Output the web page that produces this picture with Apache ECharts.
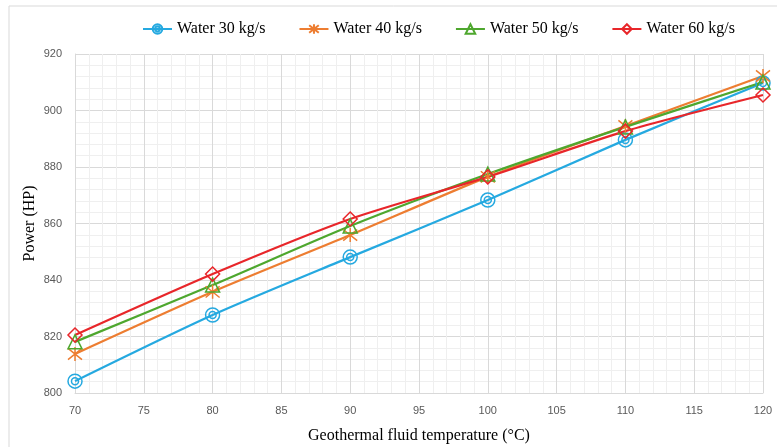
<!DOCTYPE html>
<html>
<head>
<meta charset="utf-8">
<script src="https://cdn.jsdelivr.net/npm/echarts@6/dist/echarts.min.js"></script>
<style>
  html, body { margin: 0; padding: 0; background: #fff; }
  #main { width: 777px; height: 447px; }
</style>
</head>
<body>
<div id="main"></div>
<script>
// temperatures on x axis (°C)
var temps = [70, 80, 90, 100, 110, 120];
var names = ['Water 30 kg/s', 'Water 40 kg/s', 'Water 50 kg/s', 'Water 60 kg/s'];
// power (HP)
var water30 = [804.2, 827.6, 848.1, 868.3, 889.6, 909.7];
var water40 = [813.8, 835.8, 855.9, 876.5, 894.5, 912.2];
var water50 = [818.1, 838.2, 859.1, 877.5, 894.2, 910.1];
var water60 = [820.5, 842.1, 861.6, 876.5, 892.7, 905.5];

var colors = ['#25a9e0', '#ed7d31', '#4ea72e', '#e8262a'];
var symbols = [
  'path://M0,-10A10,10 0 1,1 0,10A10,10 0 1,1 0,-10ZM0,-5A5,5 0 1,1 0,5A5,5 0 1,1 0,-5Z',
  'path://M-8,-8L8,8M8,-8L-8,8M0,-10L0,10',
  'path://M0,-9L9,7L-9,7Z',
  'path://M0,-10L10,0L0,10L-10,0Z'
];
var dataSets = [water30, water40, water50, water60];

function mkSeries(i) {
  return {
    name: names[i],
    type: 'line',
    smooth: 0.25,
    data: temps.map(function (t, k) { return [t, dataSets[i][k]]; }),
    symbol: symbols[i],
    symbolSize: 14,
    lineStyle: { color: colors[i], width: 2.2 },
    itemStyle: { color: 'rgba(255,255,255,0)', borderColor: colors[i], borderWidth: 1.5 }
  };
}

var chart = echarts.init(document.getElementById('main'));
chart.setOption({
  animation: false,
  backgroundColor: '#fff',
  graphic: [{
    type: 'rect',
    shape: { x: 9, y: 6, width: 800, height: 480 },
    style: { fill: 'none', stroke: '#d9d9d9', lineWidth: 1 },
    silent: true
  }],
  legend: {
    top: 16,
    left: 137,
    itemGap: 33,
    itemWidth: 29,
    itemHeight: 12,
    textStyle: { fontFamily: 'Liberation Serif', fontSize: 16, color: '#000' },
    data: names
  },
  grid: { left: 75, right: 14, top: 54, bottom: 54, outerBoundsMode: 'none' },
  xAxis: {
    type: 'value',
    min: 70, max: 120, interval: 5,
    name: 'Geothermal fluid temperature (°C)',
    nameLocation: 'middle',
    nameGap: 35,
    nameTextStyle: { fontFamily: 'Liberation Serif', fontSize: 16, color: '#000' },
    axisLine: { show: true, lineStyle: { color: '#d9d9d9' } },
    axisTick: { show: false },
    axisLabel: { color: '#595959', fontFamily: 'Liberation Sans', fontSize: 11, margin: 12 },
    splitLine: { show: true, lineStyle: { color: '#d9d9d9', width: 1 } },
    minorTick: { show: false, splitNumber: 5 },
    minorSplitLine: { show: true, lineStyle: { color: '#efefef', width: 1 } }
  },
  yAxis: {
    type: 'value',
    min: 800, max: 920, interval: 20,
    name: 'Power (HP)',
    nameLocation: 'middle',
    nameGap: 37,
    nameMoveOverlap: false,
    nameTextStyle: { fontFamily: 'Liberation Serif', fontSize: 16, color: '#000' },
    axisLine: { show: true, lineStyle: { color: '#d9d9d9' } },
    axisTick: { show: false },
    axisLabel: { color: '#595959', fontFamily: 'Liberation Sans', fontSize: 11, margin: 13 },
    splitLine: { show: true, lineStyle: { color: '#d9d9d9', width: 1 } },
    minorTick: { show: false, splitNumber: 5 },
    minorSplitLine: { show: true, lineStyle: { color: '#efefef', width: 1 } }
  },
  series: [mkSeries(0), mkSeries(1), mkSeries(2), mkSeries(3)]
});
</script>
</body>
</html>
